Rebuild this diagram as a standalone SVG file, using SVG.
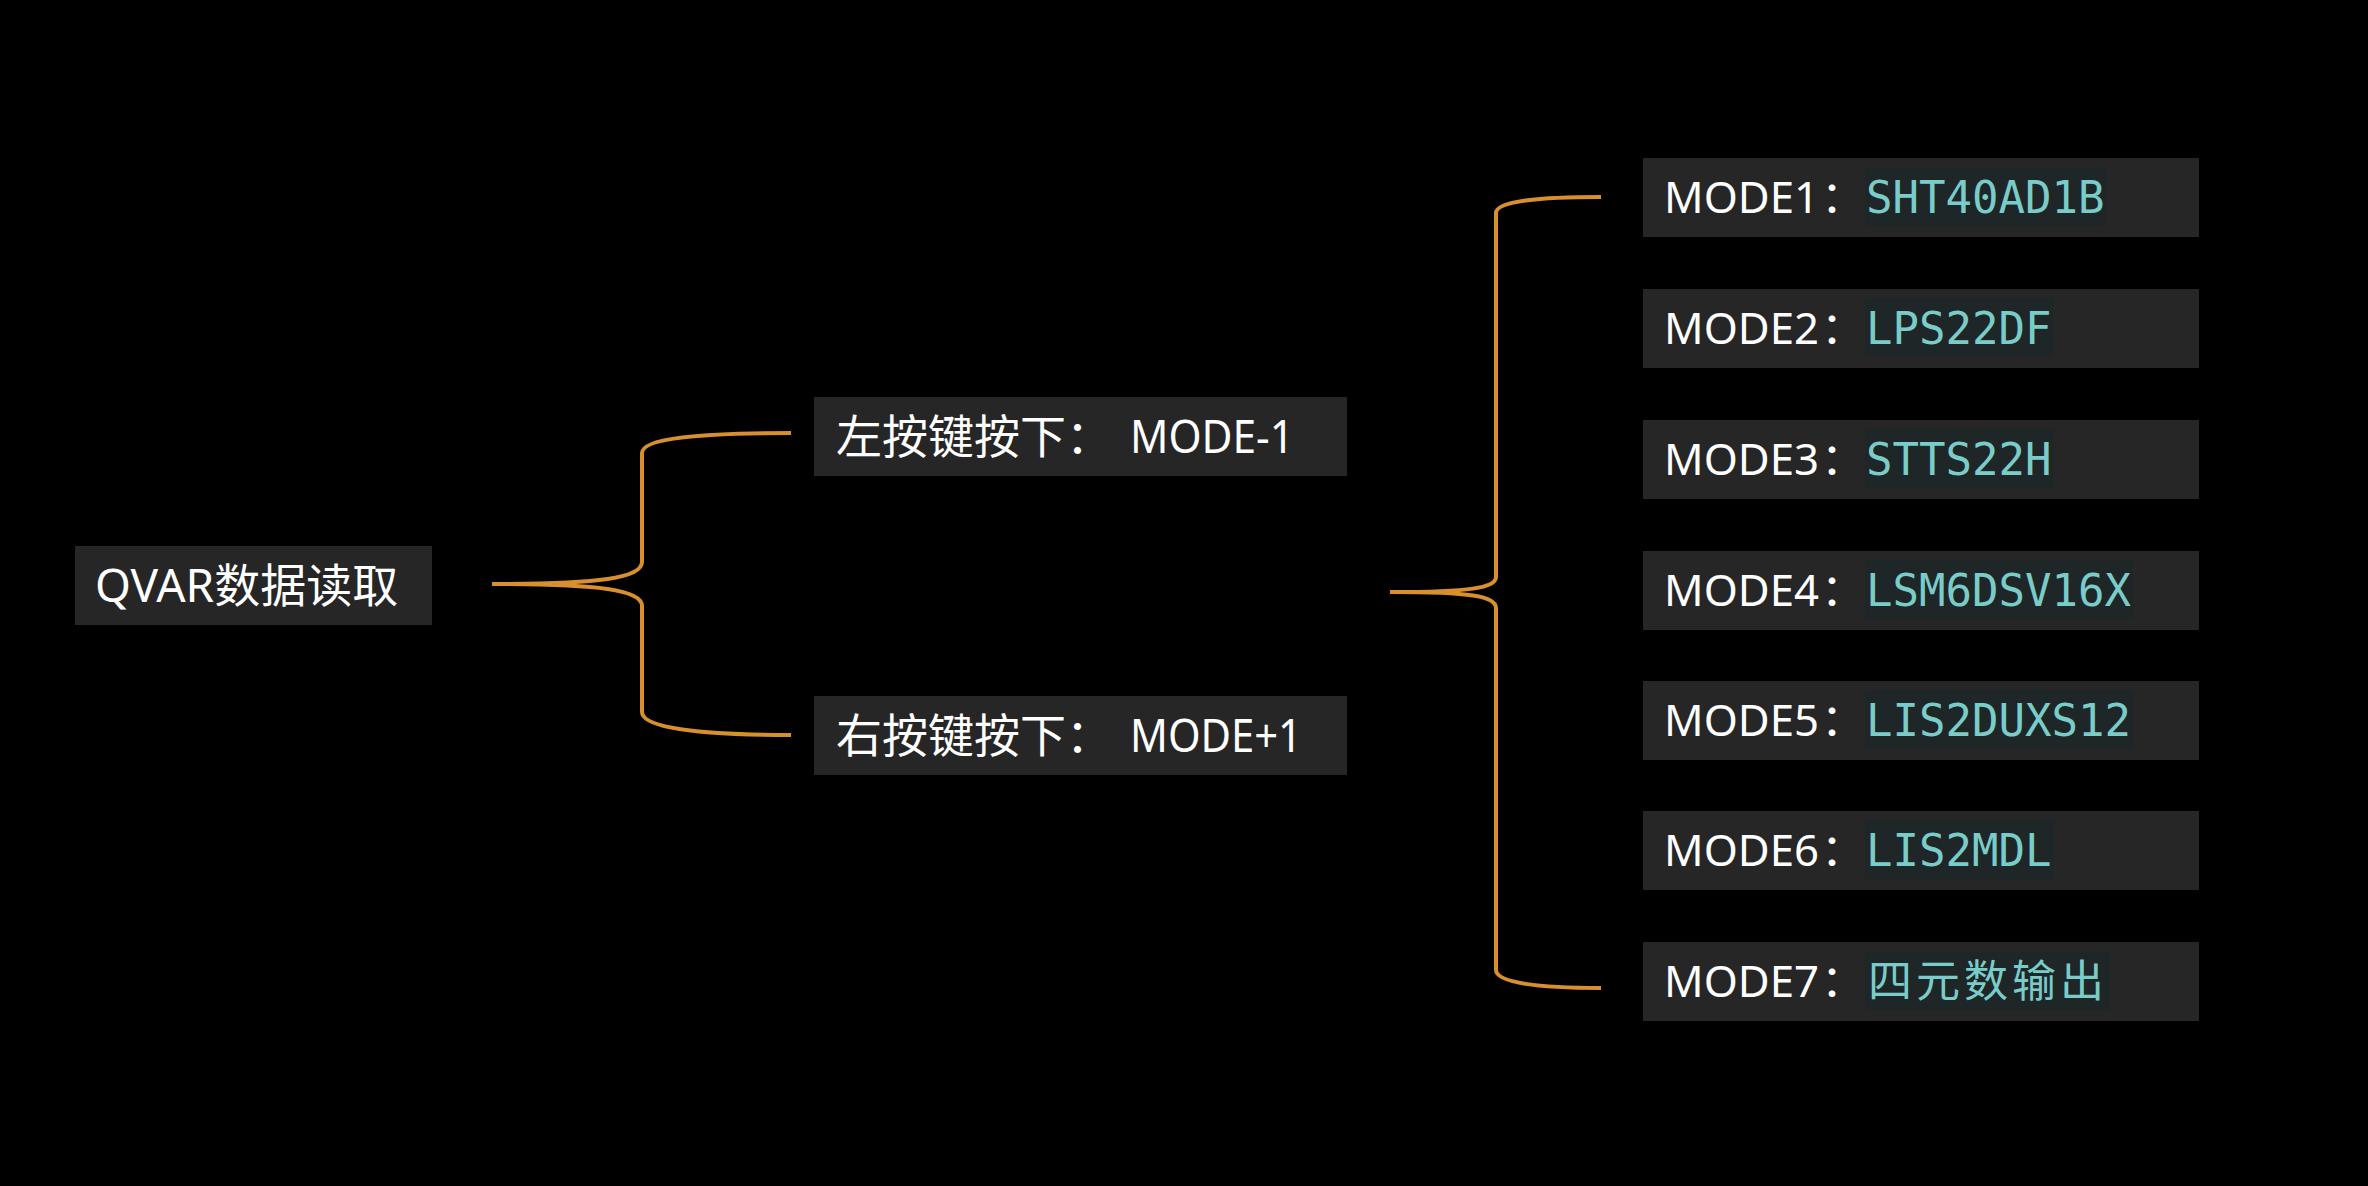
<svg xmlns="http://www.w3.org/2000/svg" width="2368" height="1186" viewBox="0 0 2368 1186">
<style>
.box{fill:#262626}
.hl{fill:#1f2628}
.t{font-family:"Noto Sans","Noto Sans CJK SC",sans-serif;fill:#ffffff}
.r{font-family:"Noto Sans","Noto Sans CJK SC",sans-serif;fill:#ffffff;font-size:44px}
.m{font-family:"DejaVu Sans Mono","Noto Sans CJK SC",monospace;fill:#7accc8;font-size:44px}
.c{fill:none;stroke:#d88f2e;stroke-width:4;stroke-linecap:butt}
</style>
<rect width="2368" height="1186" fill="#000"/>
<g id="connectors">
<path class="c" d="M492,584 C600,584 642,578 642,562 L642,453 C642,438 700,433 791,433"/>
<path class="c" d="M492,584 C600,584 642,590 642,606 L642,712 C642,728 700,735 791,735"/>
<path class="c" d="M1390,592 C1470,592 1496,588 1496,577 L1496,213 C1496,201 1540,197 1601,197"/>
<path class="c" d="M1390,592 C1470,592 1496,596 1496,608 L1496,970 C1496,983 1540,988 1601,988"/>
</g>
<g id="root">
<rect class="box" x="75" y="546" width="357" height="79"/>
<text class="t" x="95" y="602" font-size="46">QVAR数据读取</text>
</g>
<g id="left-key">
<rect class="box" x="814" y="397" width="533" height="79"/>
<text class="t" x="836" y="453" font-size="46">左按键按下：</text>
<text class="t" x="1130" y="453" font-size="46" textLength="164" lengthAdjust="spacingAndGlyphs">MODE-1</text>
</g>
<g id="right-key">
<rect class="box" x="814" y="696" width="533" height="79"/>
<text class="t" x="836" y="752" font-size="46">右按键按下：</text>
<text class="t" x="1130" y="752" font-size="46" textLength="172" lengthAdjust="spacingAndGlyphs">MODE+1</text>
</g>
<g id="mode1">
<rect class="box" x="1643" y="158" width="556" height="79"/>
<rect class="hl" x="1865" y="167" width="242" height="59"/>
<text class="r" x="1664" y="213" textLength="155" lengthAdjust="spacingAndGlyphs">MODE1</text>
<text class="r" x="1821" y="213">：</text>
<text class="m" x="1866" y="213">SHT40AD1B</text>
</g>
<g id="mode2">
<rect class="box" x="1643" y="289" width="556" height="79"/>
<rect class="hl" x="1865" y="298" width="189" height="59"/>
<text class="r" x="1664" y="344" textLength="155" lengthAdjust="spacingAndGlyphs">MODE2</text>
<text class="r" x="1821" y="344">：</text>
<text class="m" x="1866" y="344">LPS22DF</text>
</g>
<g id="mode3">
<rect class="box" x="1643" y="420" width="556" height="79"/>
<rect class="hl" x="1865" y="429" width="189" height="59"/>
<text class="r" x="1664" y="475" textLength="155" lengthAdjust="spacingAndGlyphs">MODE3</text>
<text class="r" x="1821" y="475">：</text>
<text class="m" x="1866" y="475">STTS22H</text>
</g>
<g id="mode4">
<rect class="box" x="1643" y="551" width="556" height="79"/>
<rect class="hl" x="1865" y="560" width="268" height="59"/>
<text class="r" x="1664" y="606" textLength="155" lengthAdjust="spacingAndGlyphs">MODE4</text>
<text class="r" x="1821" y="606">：</text>
<text class="m" x="1866" y="606">LSM6DSV16X</text>
</g>
<g id="mode5">
<rect class="box" x="1643" y="681" width="556" height="79"/>
<rect class="hl" x="1865" y="690" width="268" height="59"/>
<text class="r" x="1664" y="736" textLength="155" lengthAdjust="spacingAndGlyphs">MODE5</text>
<text class="r" x="1821" y="736">：</text>
<text class="m" x="1866" y="736">LIS2DUXS12</text>
</g>
<g id="mode6">
<rect class="box" x="1643" y="811" width="556" height="79"/>
<rect class="hl" x="1865" y="820" width="189" height="59"/>
<text class="r" x="1664" y="866" textLength="155" lengthAdjust="spacingAndGlyphs">MODE6</text>
<text class="r" x="1821" y="866">：</text>
<text class="m" x="1866" y="866">LIS2MDL</text>
</g>
<g id="mode7">
<rect class="box" x="1643" y="942" width="556" height="79"/>
<rect class="hl" x="1865" y="951" width="245" height="59"/>
<text class="r" x="1664" y="997" textLength="155" lengthAdjust="spacingAndGlyphs">MODE7</text>
<text class="r" x="1821" y="997">：</text>
<text class="m" x="1868" y="997" letter-spacing="4">四元数输出</text>
</g>
</svg>
